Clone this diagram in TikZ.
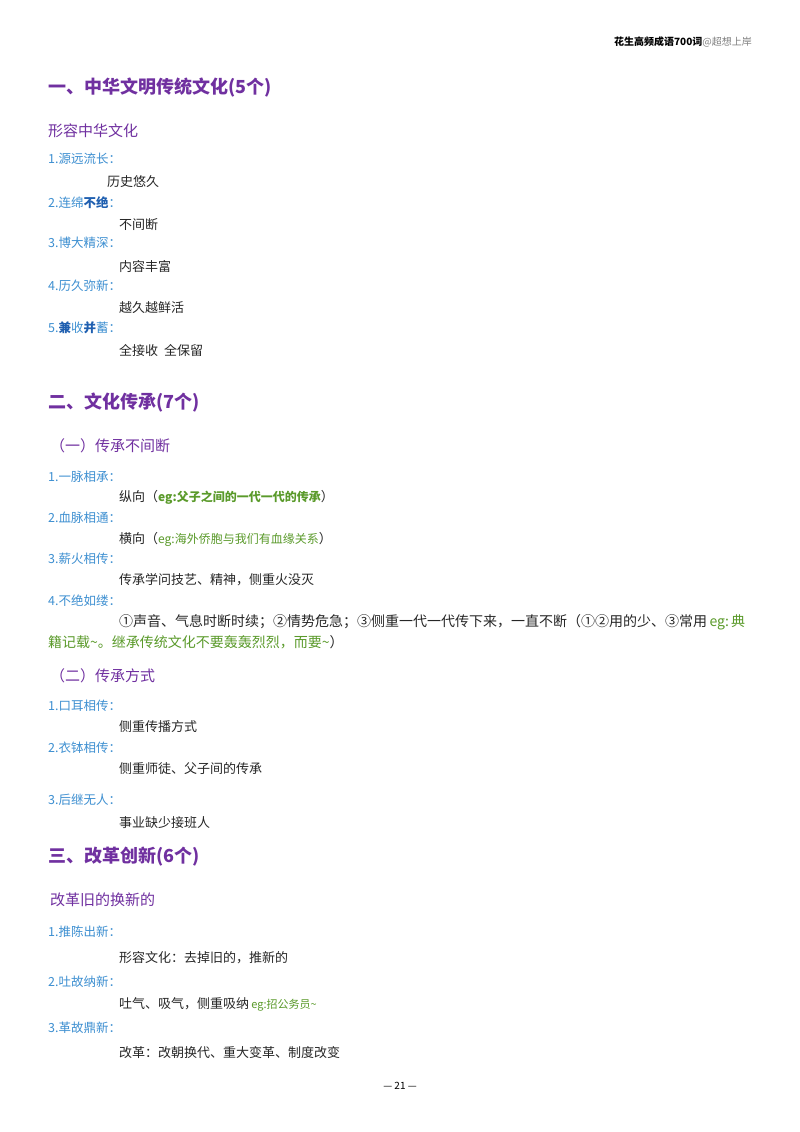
\documentclass[tikz,border=0pt]{standalone}
\usepackage{fontspec}
\setmainfont{Noto Sans CJK SC}
\newfontfamily\cjk{Noto Sans CJK SC}
\definecolor{pur}{HTML}{7030A0}
\definecolor{blu}{HTML}{3D8FD1}
\definecolor{dblu}{HTML}{1F5FB0}
\definecolor{grn}{HTML}{5A9A2A}
\begin{document}
\begin{tikzpicture}[x=1pt,y=-1pt,
 h1/.style={anchor=west,inner sep=0,text=pur,font=\fontsize{18}{20}\selectfont\bfseries},
 h2/.style={anchor=west,inner sep=0,text=pur,font=\fontsize{15}{17}\selectfont},
 it/.style={anchor=west,inner sep=0,text=blu,font=\fontsize{12.5}{14}\selectfont},
 tx/.style={anchor=west,inner sep=0,text=black!85,font=\fontsize{13}{15}\selectfont}]
\useasboundingbox[fill=white] (0,0) rectangle (800,1132);
\node[anchor=east,inner sep=0,font=\fontsize{10}{12}\selectfont\bfseries] (hd) at (752,42) {花生高频成语700词\textcolor{gray}{\mdseries @超想上岸}};
\node[h1] (s1) at (48,88) {一、中华文明传统文化(5个)};
\node[h2] (s1a) at (48,131) {形容中华文化};
\node[it] (a1) at (48,159) {1.源远流长：};
\node[tx] (b1) at (107,182) {历史悠久};
\node[it] (a2) at (48,203) {2.连绵\textcolor{dblu}{\bfseries 不绝}：};
\node[tx] (b2) at (119,225) {不间断};
\node[it] (a3) at (48,243) {3.博大精深：};
\node[tx] (b3) at (119,267) {内容丰富};
\node[it] (a4) at (48,286) {4.历久弥新：};
\node[tx] (b4) at (119,308) {越久越鲜活};
\node[it] (a5) at (48,328) {5.\textcolor{dblu}{\bfseries 兼}收\textcolor{dblu}{\bfseries 并}蓄：};
\node[tx] (b5) at (119,350) {全接收\ \ 全保留};
\node[h1] (s2) at (48,403) {二、文化传承(7个)};
\node[h2] (s2a) at (50,446) {（一）传承不间断};
\node[it] (c1) at (48,477) {1.一脉相承：};
\node[tx] (d1) at (119,497) {纵向（\textcolor{grn}{\bfseries\fontsize{12}{14}\selectfont eg:父子之间的一代一代的传承}）};
\node[it] (c2) at (48,518) {2.血脉相通：};
\node[tx] (d2) at (119,539) {横向（\textcolor{grn}{\fontsize{12}{14}\selectfont eg:海外侨胞与我们有血缘关系}）};
\node[it] (c3) at (48,559) {3.薪火相传：};
\node[tx] (d3) at (119,580) {传承学问技艺、精神，侧重火没灭};
\node[it] (c4) at (48,601) {4.不绝如缕：};
\node[tx,font=\fontsize{14}{16}\selectfont] (d4) at (119,622) {①声音、气息时断时续；②情势危急；③侧重一代一代传下来，一直不断（①②用的少、③常用\,\textcolor{grn}{eg:\,典}};
\node[tx,text=grn,font=\fontsize{14}{16}\selectfont] (d4b) at (48,642) {籍记载\textasciitilde。继承传统文化不要轰轰烈烈，而要\textasciitilde\textcolor{black!85}{）}};
\node[h2] (s2b) at (50,676) {（二）传承方式};
\node[it] (e1) at (48,706) {1.口耳相传：};
\node[tx] (f1) at (119,727) {侧重传播方式};
\node[it] (e2) at (48,748) {2.衣钵相传：};
\node[tx] (f2) at (119,769) {侧重师徒、父子间的传承};
\node[it] (e3) at (48,800) {3.后继无人：};
\node[tx] (f3) at (119,823) {事业缺少接班人};
\node[h1] (s3) at (48,857) {三、改革创新(6个)};
\node[h2] (s3a) at (50,900) {改革旧的换新的};
\node[it] (g1) at (48,932) {1.推陈出新：};
\node[tx] (h1n) at (119,958) {形容文化：去掉旧的，推新的};
\node[it] (g2) at (48,982) {2.吐故纳新：};
\node[tx] (h2n) at (119,1004) {吐气、吸气，侧重吸纳\,\textcolor{grn}{\fontsize{11}{13}\selectfont eg:招公务员\textasciitilde}};
\node[it] (g3) at (48,1028) {3.革故鼎新：};
\node[tx] (h3n) at (119,1053) {改革：改朝换代、重大变革、制度改变};
\node[inner sep=0,font=\fontsize{10}{12}\selectfont] (pg) at (400,1086) {— 21 —};
\end{tikzpicture}
\end{document}
